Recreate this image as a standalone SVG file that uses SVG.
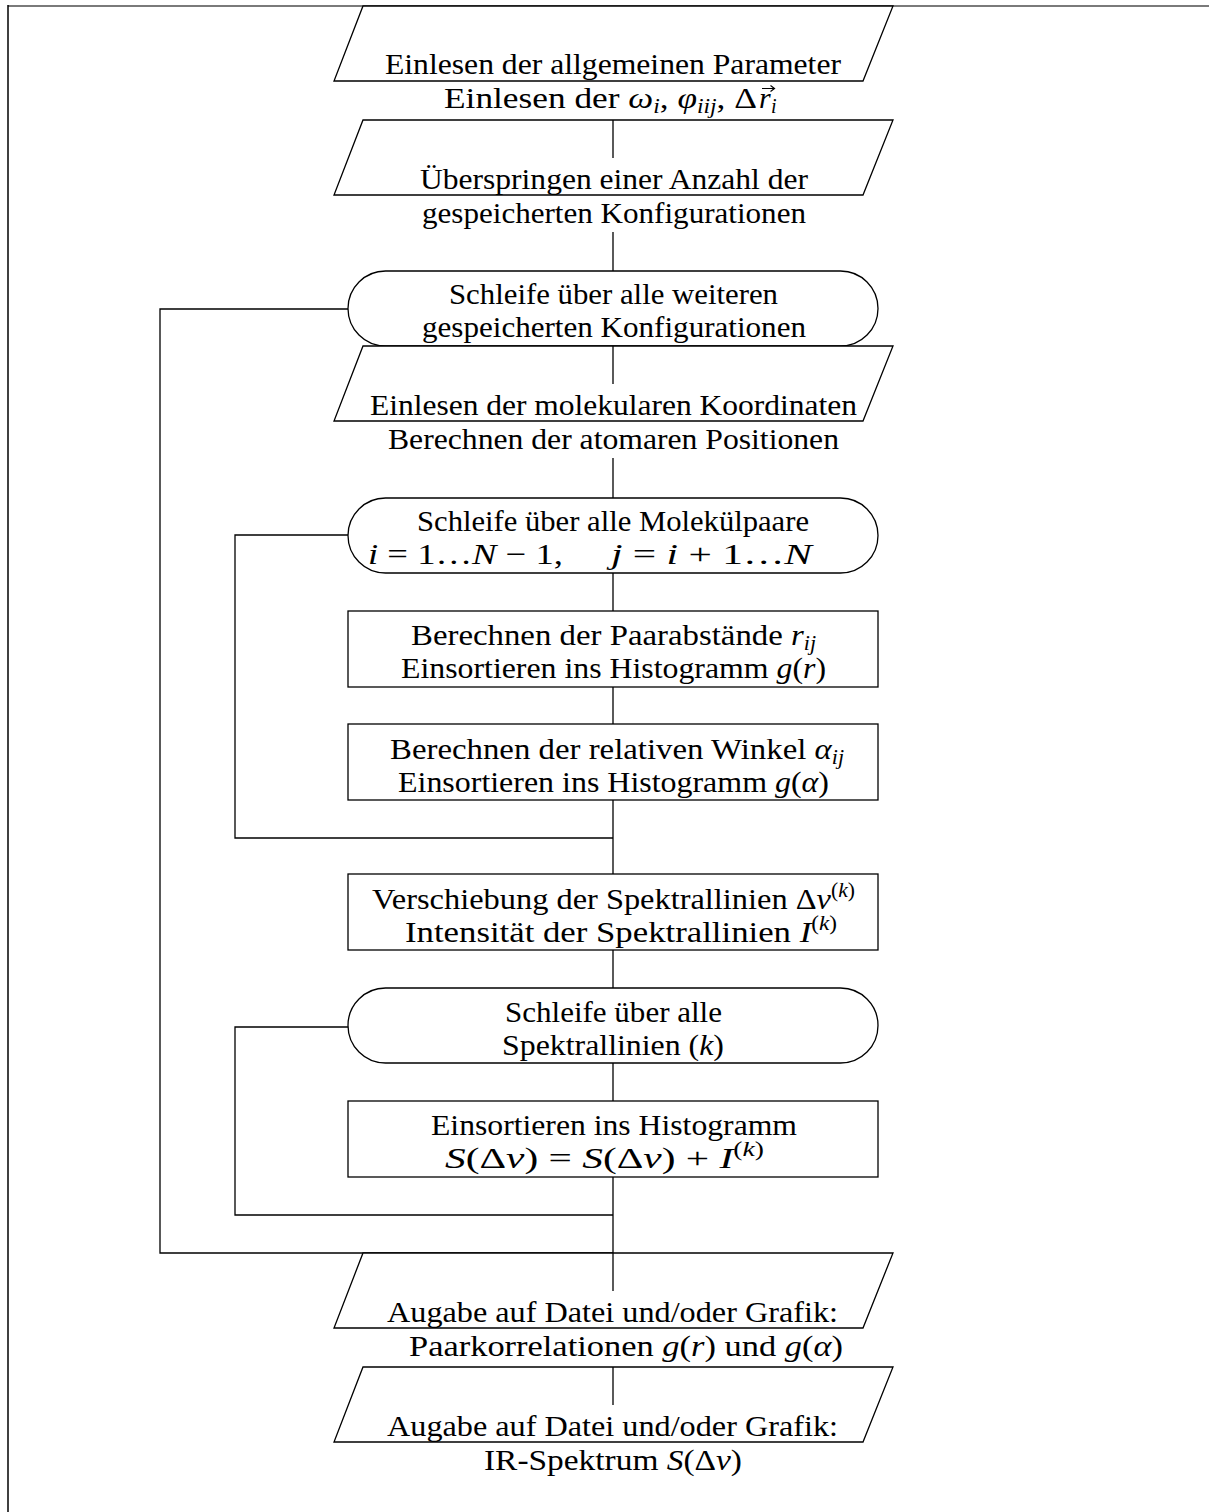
<svg xmlns="http://www.w3.org/2000/svg" width="1209" height="1512" viewBox="0 0 1209 1512">
<style>
.s{fill:#fff;stroke:#000;stroke-width:1.3}
.c{fill:none;stroke:#000;stroke-width:1.3}
text{font-family:"Liberation Serif","Times New Roman",serif;font-size:30px;fill:#000}
.m{font-style:italic}
.sb{font-size:20px;font-style:italic}
.sp{font-size:20px}
</style>
<rect width="1209" height="1512" fill="#fff"/>
<g id="frame">
<line x1="8" y1="6" x2="1209" y2="6" stroke="#7a7a7a" stroke-width="2"/>
<line x1="8" y1="5" x2="8" y2="1512" stroke="#000" stroke-width="1.5"/>
</g>
<g id="connectors" class="c">
<path d="M613 120V158"/>
<path d="M613 232V271"/>
<path d="M613 346V384"/>
<path d="M613 458V498"/>
<path d="M613 573V611"/>
<path d="M613 687V724"/>
<path d="M613 800V874"/>
<path d="M613 950V988"/>
<path d="M613 1063V1101"/>
<path d="M613 1177V1253"/>
<path d="M613 1253V1291"/>
<path d="M613 1367V1405"/>
<path d="M348 309H160V1253H613"/>
<path d="M348 535H235V838H613"/>
<path d="M348 1027H235V1215H613"/>
</g>
<g id="p1">
<polygon class="s" points="363,6 893,6 863,81 334,81"/>
<text x="385" y="74" textLength="456" lengthAdjust="spacingAndGlyphs">Einlesen der allgemeinen Parameter</text>
<text x="444" y="108" textLength="313" lengthAdjust="spacingAndGlyphs">Einlesen der <tspan class="m">ω</tspan><tspan class="sb" dy="5">i</tspan><tspan dy="-5">, </tspan><tspan class="m">φ</tspan><tspan class="sb" dy="5">iij</tspan><tspan dy="-5">, Δ</tspan></text>
<text x="759" y="108" class="m">r</text>
<text x="771" y="113" class="sb">i</text>
<path d="M762 88.5H774M770.5 85.5L774.5 88.5L770.5 91.5" fill="none" stroke="#000" stroke-width="1.2"/>
</g>
<g id="p2">
<polygon class="s" points="363,120 893,120 863,195 334,195"/>
<line class="c" x1="613" y1="120" x2="613" y2="158"/>
<text x="420" y="189" textLength="388" lengthAdjust="spacingAndGlyphs">Überspringen einer Anzahl der</text>
<text x="422" y="223" textLength="384" lengthAdjust="spacingAndGlyphs">gespeicherten Konfigurationen</text>
</g>
<g id="loop1">
<rect class="s" x="348" y="271" width="530" height="75" rx="37.5" ry="37.5"/>
<text x="449" y="304" textLength="329" lengthAdjust="spacingAndGlyphs">Schleife über alle weiteren</text>
<text x="422" y="337" textLength="384" lengthAdjust="spacingAndGlyphs">gespeicherten Konfigurationen</text>
</g>
<g id="p3">
<polygon class="s" points="363,346 893,346 863,421 334,421"/>
<line class="c" x1="613" y1="346" x2="613" y2="384"/>
<text x="370" y="415" textLength="487" lengthAdjust="spacingAndGlyphs">Einlesen der molekularen Koordinaten</text>
<text x="388" y="449" textLength="451" lengthAdjust="spacingAndGlyphs">Berechnen der atomaren Positionen</text>
</g>
<g id="loop2">
<rect class="s" x="348" y="498" width="530" height="75" rx="37.5" ry="37.5"/>
<text x="417" y="531" textLength="392" lengthAdjust="spacingAndGlyphs">Schleife über alle Molekülpaare</text>
<text x="368" y="564" textLength="195" lengthAdjust="spacingAndGlyphs"><tspan class="m">i</tspan> = 1…<tspan class="m">N</tspan> − 1,</text>
<text x="611" y="564" textLength="201" lengthAdjust="spacingAndGlyphs"><tspan class="m">j</tspan> = <tspan class="m">i</tspan> + 1…<tspan class="m">N</tspan></text>
</g>
<g id="box1">
<rect class="s" x="348" y="611" width="530" height="76"/>
<text x="411" y="645" textLength="405" lengthAdjust="spacingAndGlyphs">Berechnen der Paarabstände <tspan class="m">r</tspan><tspan class="sb" dy="5">ij</tspan></text>
<text x="401" y="678" textLength="425" lengthAdjust="spacingAndGlyphs">Einsortieren ins Histogramm <tspan class="m">g</tspan>(<tspan class="m">r</tspan>)</text>
</g>
<g id="box2">
<rect class="s" x="348" y="724" width="530" height="76"/>
<text x="390" y="759" textLength="454" lengthAdjust="spacingAndGlyphs">Berechnen der relativen Winkel <tspan class="m">α</tspan><tspan class="sb" dy="5">ij</tspan></text>
<text x="398" y="792" textLength="431" lengthAdjust="spacingAndGlyphs">Einsortieren ins Histogramm <tspan class="m">g</tspan>(<tspan class="m">α</tspan>)</text>
</g>
<g id="box3">
<rect class="s" x="348" y="874" width="530" height="76"/>
<text x="372" y="909" textLength="483" lengthAdjust="spacingAndGlyphs">Verschiebung der Spektrallinien Δ<tspan class="m">ν</tspan><tspan class="sp" dy="-12">(</tspan><tspan class="sb">k</tspan><tspan class="sp">)</tspan></text>
<text x="405" y="942" textLength="432" lengthAdjust="spacingAndGlyphs">Intensität der Spektrallinien <tspan class="m">I</tspan><tspan class="sp" dy="-12">(</tspan><tspan class="sb">k</tspan><tspan class="sp">)</tspan></text>
</g>
<g id="loop3">
<rect class="s" x="348" y="988" width="530" height="75" rx="37.5" ry="37.5"/>
<text x="505" y="1022" textLength="217" lengthAdjust="spacingAndGlyphs">Schleife über alle</text>
<text x="502" y="1055" textLength="222" lengthAdjust="spacingAndGlyphs">Spektrallinien (<tspan class="m">k</tspan>)</text>
</g>
<g id="box4">
<rect class="s" x="348" y="1101" width="530" height="76"/>
<text x="431" y="1135" textLength="366" lengthAdjust="spacingAndGlyphs">Einsortieren ins Histogramm</text>
<text x="445" y="1168" textLength="319" lengthAdjust="spacingAndGlyphs"><tspan class="m">S</tspan>(Δ<tspan class="m">ν</tspan>) = <tspan class="m">S</tspan>(Δ<tspan class="m">ν</tspan>) + <tspan class="m">I</tspan><tspan class="sp" dy="-12">(</tspan><tspan class="sb">k</tspan><tspan class="sp">)</tspan></text>
</g>
<g id="p7">
<polygon class="s" points="363,1253 893,1253 863,1328 334,1328"/>
<line class="c" x1="613" y1="1253" x2="613" y2="1291"/>
<text x="387" y="1322" textLength="451" lengthAdjust="spacingAndGlyphs">Augabe auf Datei und/oder Grafik:</text>
<text x="409" y="1356" textLength="434" lengthAdjust="spacingAndGlyphs">Paarkorrelationen <tspan class="m">g</tspan>(<tspan class="m">r</tspan>) und <tspan class="m">g</tspan>(<tspan class="m">α</tspan>)</text>
</g>
<g id="p8">
<polygon class="s" points="363,1367 893,1367 863,1442 334,1442"/>
<line class="c" x1="613" y1="1367" x2="613" y2="1405"/>
<text x="387" y="1436" textLength="451" lengthAdjust="spacingAndGlyphs">Augabe auf Datei und/oder Grafik:</text>
<text x="484" y="1470" textLength="258" lengthAdjust="spacingAndGlyphs">IR-Spektrum <tspan class="m">S</tspan>(Δ<tspan class="m">ν</tspan>)</text>
</g>
</svg>
